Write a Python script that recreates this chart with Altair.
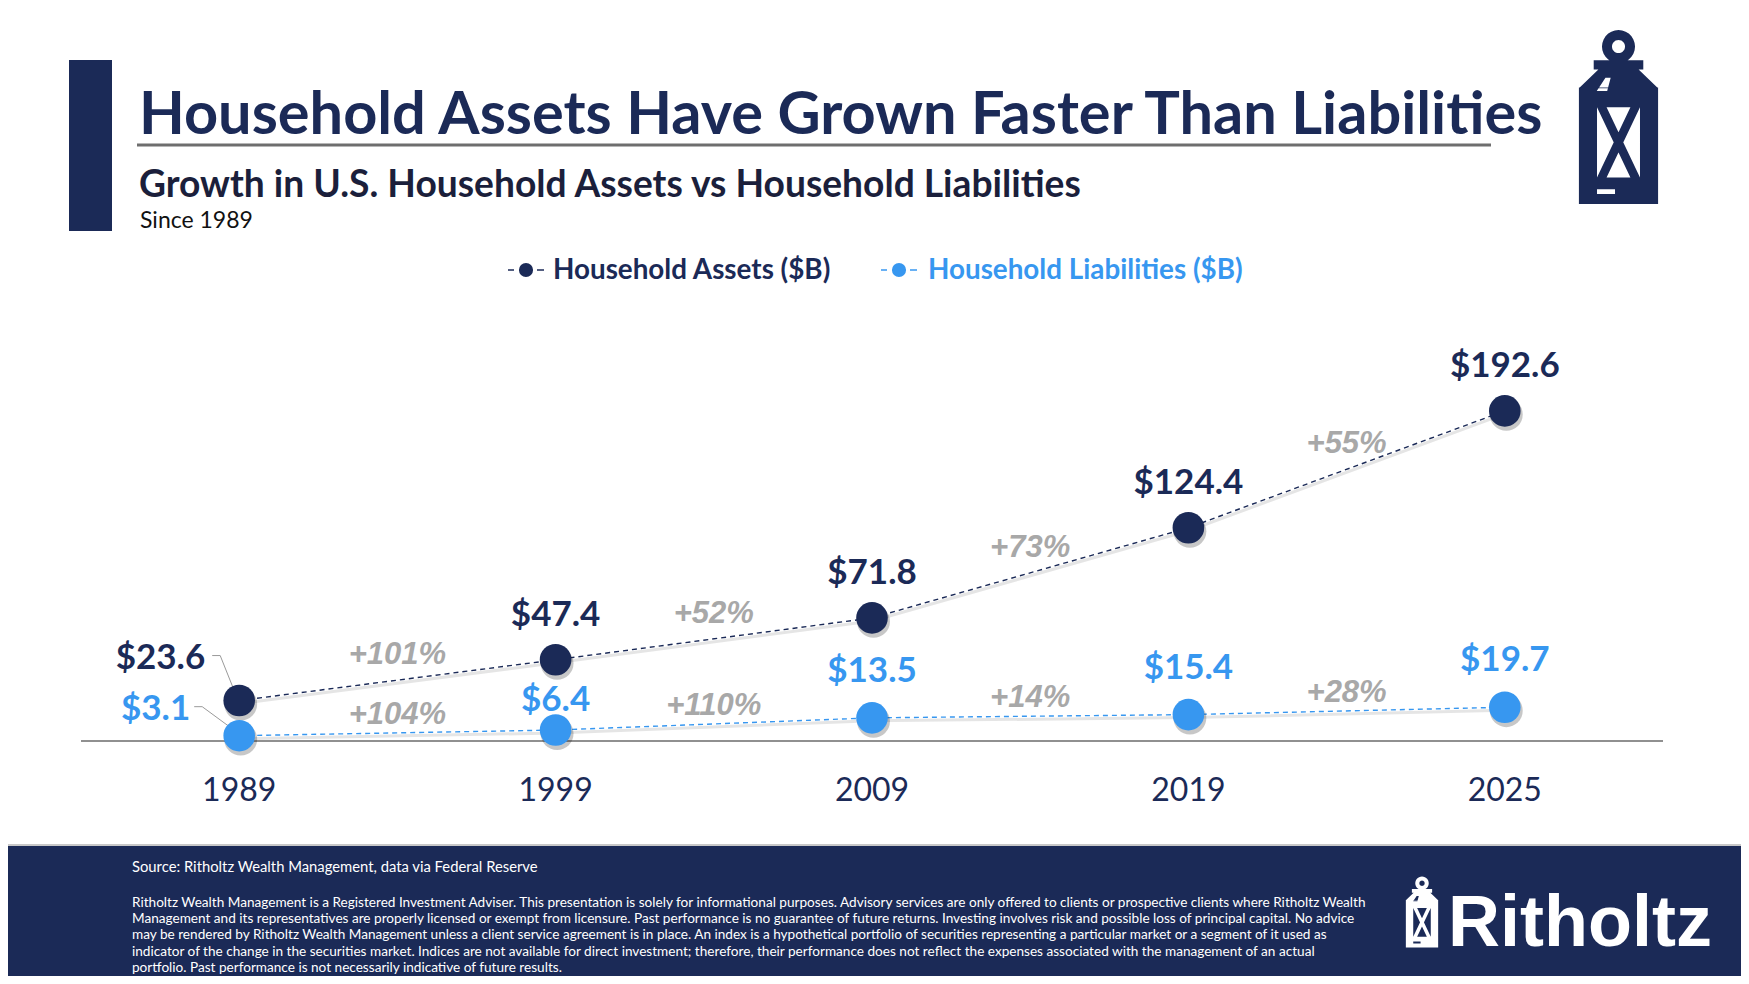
import math
import altair as alt
import pandas as pd

# ---------------- data ----------------
years = ["1989", "1999", "2009", "2019", "2025"]
assets = [23.6, 47.4, 71.8, 124.4, 192.6]
liabilities = [3.1, 6.4, 13.5, 15.4, 19.7]
assets_growth = ["+101%", "+52%", "+73%", "+55%"]
liabilities_growth = ["+104%", "+110%", "+14%", "+28%"]

title = "Household Assets Have Grown Faster Than Liabilities"
subtitle = "Growth in U.S. Household Assets vs Household Liabilities"
since = "Since 1989"
legend_labels = ["Household Assets ($B)", "Household Liabilities ($B)"]
source = "Source: Ritholtz Wealth Management, data via Federal Reserve"
disclaimer = [
    "Ritholtz Wealth Management is a Registered Investment Adviser. This presentation is solely for informational purposes. Advisory services are only offered to clients or prospective clients where Ritholtz Wealth",
    "Management and its representatives are properly licensed or exempt from licensure. Past performance is no guarantee of future returns. Investing involves risk and possible loss of principal capital. No advice",
    "may be rendered by Ritholtz Wealth Management unless a client service agreement is in place. An index is a hypothetical portfolio of securities representing a particular market or a segment of it used as",
    "indicator of the change in the securities market. Indices are not available for direct investment; therefore, their performance does not reflect the expenses associated with the management of an actual",
    "portfolio. Past performance is not necessarily indicative of future results.",
]
brand = "Ritholtz"

# ---------------- styles ----------------
NAVY = "#1b2a57"
BLUE = "#3797f0"
GRAY = "#a8a8a8"
COND = "Lato"
SANS = "Liberation Sans"

pts = pd.DataFrame({"idx": list(range(len(years))), "year": years,
                    "assets": assets, "liab": liabilities})
pts["alab"] = ["$" + f"{v:.1f}" for v in assets]
pts["llab"] = ["$" + f"{v:.1f}" for v in liabilities]

seg = pd.DataFrame({
    "mid": [i + 0.5 for i in range(len(years) - 1)],
    "amid": [(assets[i] + assets[i + 1]) / 2 for i in range(len(years) - 1)],
    "lmid": [(liabilities[i] + liabilities[i + 1]) / 2 for i in range(len(years) - 1)],
    "ag": assets_growth,
    "lg": liabilities_growth,
})

X = alt.Scale(domain=[-0.5, 4.5], range=[73, 1655])
Y = alt.Scale(domain=[0, 200], range=[733, 390.2])


def xq(f):
    return alt.X(f"{f}:Q", scale=X, axis=None)


def yq(f):
    return alt.Y(f"{f}:Q", scale=Y, axis=None)


def deco():
    return alt.Chart(alt.Data(values=[{}]))


# ---------------- lantern icon path ----------------
def poly(points):
    return "M" + " L".join(f"{x:.3f},{y:.3f}" for x, y in points) + " Z "


def circ(cx, cy, r, cw=True, n=28):
    p = [(cx + r * math.cos(2 * math.pi * k / n), cy + r * math.sin(2 * math.pi * k / n)) for k in range(n)]
    return poly(p if cw else p[::-1])


def rect(x0, y0, x1, y1, cw=True):
    p = [(x0, y0), (x1, y0), (x1, y1), (x0, y1)]
    return poly(p if cw else p[::-1])


w = 0.11
LANTERN = (
    circ(0, -0.81, 0.19) + circ(0, -0.81, 0.075, cw=False)
    + rect(-0.285, -0.651, 0.285, -0.545)
    + poly([(-0.228, -0.55), (0.228, -0.55), (0.455, -0.33), (-0.455, -0.33)])
    + rect(-0.455, -0.34, 0.455, 1.0)
    + rect(-0.247, -0.112, 0.247, 0.696, cw=False)
    + poly([(-0.247, -0.112), (-0.247 + w, -0.112), (0.247, 0.696), (0.247 - w, 0.696)])
    + poly([(0.247 - w, -0.112), (0.247, -0.112), (-0.247 + w, 0.696), (-0.247, 0.696)])
    + poly([(-0.25, -0.30), (-0.13, -0.30), (-0.09, -0.45), (-0.15, -0.45)])
    + rect(-0.247, 0.83, -0.04, 0.886, cw=False)
).strip()

layers = []

# ---------------- header ----------------
layers.append(deco().mark_rect(color=NAVY).encode(
    x=alt.value(61), x2=alt.value(104), y=alt.value(52), y2=alt.value(223)))
layers.append(deco().mark_text(text=title, font=COND, fontWeight="bold", fontSize=59.5,
                               color=NAVY, align="left", baseline="alphabetic").encode(
    x=alt.value(131), y=alt.value(126)))
layers.append(deco().mark_rule(color="#6e6e6e", strokeWidth=3).encode(
    x=alt.value(129), x2=alt.value(1483), y=alt.value(137)))
layers.append(deco().mark_text(text=subtitle, font=COND, fontWeight="bold", fontSize=37.2,
                               color="#1b1f3b", align="left", baseline="alphabetic").encode(
    x=alt.value(131), y=alt.value(189)))
layers.append(deco().mark_text(text=since, font=COND, fontSize=23,
                               color="#111111", align="left", baseline="alphabetic").encode(
    x=alt.value(132), y=alt.value(220)))
layers.append(deco().mark_point(shape=LANTERN, size=30276, filled=True, color=NAVY,
                                opacity=1, strokeWidth=0).encode(
    x=alt.value(1610.5), y=alt.value(109)))

# ---------------- legend ----------------
for cx, tx, col, lab in [(518, 545, NAVY, legend_labels[0]), (891, 920, BLUE, legend_labels[1])]:
    layers.append(deco().mark_rule(color=col, strokeWidth=1.5).encode(
        x=alt.value(cx - 18), x2=alt.value(cx - 12), y=alt.value(262)))
    layers.append(deco().mark_rule(color=col, strokeWidth=1.5).encode(
        x=alt.value(cx + 11), x2=alt.value(cx + 18), y=alt.value(262)))
    layers.append(deco().mark_circle(color=col, size=200, opacity=1).encode(
        x=alt.value(cx), y=alt.value(262)))
    layers.append(deco().mark_text(text=lab, font=COND, fontWeight="bold", fontSize=27.8,
                                   color=col, align="left", baseline="middle").encode(
        x=alt.value(tx), y=alt.value(263)))

# ---------------- plot ----------------
base = alt.Chart(pts)

layers.append(deco().mark_rule(color="#222222", strokeWidth=1.2).encode(
    x=alt.X(datum=-0.5, scale=X, axis=None), x2=alt.X2(datum=4.5),
    y=alt.Y(datum=0, scale=Y, axis=None)))
layers.append(base.mark_text(font=COND, fontSize=32, color=NAVY, baseline="alphabetic", dy=60).encode(
    x=xq("idx"), y=alt.Y(datum=0, scale=Y, axis=None), text="year:N"))

# leader lines for the first labels
first = base.transform_filter("datum.idx == 0")
layers.append(first.mark_rule(color="#9a9a9a", strokeWidth=1, xOffset=-27, x2Offset=-19,
                              yOffset=-45, y2Offset=-45).encode(
    x=xq("idx"), x2=alt.X2("idx:Q"), y=yq("assets"), y2=alt.Y2("assets:Q")))
layers.append(first.mark_rule(color="#9a9a9a", strokeWidth=1, xOffset=-19, x2Offset=-3,
                              yOffset=-45, y2Offset=-5).encode(
    x=xq("idx"), x2=alt.X2("idx:Q"), y=yq("assets"), y2=alt.Y2("assets:Q")))
layers.append(first.mark_rule(color="#9a9a9a", strokeWidth=1, xOffset=-45, x2Offset=-37,
                              yOffset=-29, y2Offset=-29).encode(
    x=xq("idx"), x2=alt.X2("idx:Q"), y=yq("liab"), y2=alt.Y2("liab:Q")))
layers.append(first.mark_rule(color="#9a9a9a", strokeWidth=1, xOffset=-37, x2Offset=-3,
                              yOffset=-29, y2Offset=-4).encode(
    x=xq("idx"), x2=alt.X2("idx:Q"), y=yq("liab"), y2=alt.Y2("liab:Q")))

for field, col in [("assets", NAVY), ("liab", BLUE)]:
    layers.append(base.mark_line(color="#000000", opacity=0.10, strokeWidth=3, yOffset=3).encode(
        x=xq("idx"), y=yq(field)))
    layers.append(base.mark_line(color=col, strokeWidth=1.4, strokeDash=[5, 4]).encode(
        x=xq("idx"), y=yq(field)))
    layers.append(base.mark_circle(color="#000000", opacity=0.22, size=1080,
                                   xOffset=1.5, yOffset=3.5).encode(x=xq("idx"), y=yq(field)))
    layers.append(base.mark_circle(color=col, opacity=1, size=1000).encode(
        x=xq("idx"), y=yq(field)))

lab_style = dict(font=COND, fontWeight="bold", fontSize=35, baseline="alphabetic")
layers.append(base.transform_filter("datum.idx >= 1").mark_text(color=NAVY, dy=-34, **lab_style).encode(
    x=xq("idx"), y=yq("assets"), text="alab:N"))
layers.append(first.mark_text(color=NAVY, align="right", dx=-34, dy=-32, **lab_style).encode(
    x=xq("idx"), y=yq("assets"), text="alab:N"))
layers.append(base.transform_filter("datum.idx >= 2").mark_text(color=BLUE, dy=-36, **lab_style).encode(
    x=xq("idx"), y=yq("liab"), text="llab:N"))
layers.append(base.transform_filter("datum.idx == 1").mark_text(color=BLUE, dy=-19.5, **lab_style).encode(
    x=xq("idx"), y=yq("liab"), text="llab:N"))
layers.append(first.mark_text(color=BLUE, align="right", dx=-49, dy=-16, **lab_style).encode(
    x=xq("idx"), y=yq("liab"), text="llab:N"))

g_style = dict(font=SANS, fontStyle="italic", fontWeight="bold", fontSize=31,
               color=GRAY, baseline="alphabetic")
layers.append(alt.Chart(seg).mark_text(dy=-16, **g_style).encode(
    x=xq("mid"), y=yq("amid"), text="ag:N"))
layers.append(alt.Chart(seg).mark_text(dy=-9, **g_style).encode(
    x=xq("mid"), y=yq("lmid"), text="lg:N"))

# ---------------- footer ----------------
layers.append(deco().mark_rect(color=NAVY).encode(
    x=alt.value(0), x2=alt.value(1733), y=alt.value(837), y2=alt.value(968)))
layers.append(deco().mark_rule(color="#c8c8c8", strokeWidth=2).encode(
    x=alt.value(0), x2=alt.value(1733), y=alt.value(837)))
layers.append(deco().mark_text(text=source, font=COND, fontSize=14.8, color="white",
                               align="left", baseline="middle").encode(
    x=alt.value(124), y=alt.value(860)))
layers.append(deco().mark_text(text=disclaimer, font=COND, fontSize=13.6, lineHeight=16.2,
                               color="white", align="left", baseline="top").encode(
    x=alt.value(124), y=alt.value(888)))
layers.append(deco().mark_point(shape=LANTERN, size=5041, filled=True, color="white",
                                opacity=1, strokeWidth=0).encode(
    x=alt.value(1414), y=alt.value(904)))
layers.append(deco().mark_text(text=brand, font=SANS, fontWeight="bold", fontSize=72,
                               color="white", align="left", baseline="alphabetic").encode(
    x=alt.value(1440), y=alt.value(938)))

chart = alt.layer(*layers).properties(
    width=1733, height=968, padding=0, background="white",
    autosize=alt.AutoSizeParams(type="none"),
).configure_view(strokeWidth=0)

chart.save("out.html", embed_options={"renderer": "svg", "actions": False})
